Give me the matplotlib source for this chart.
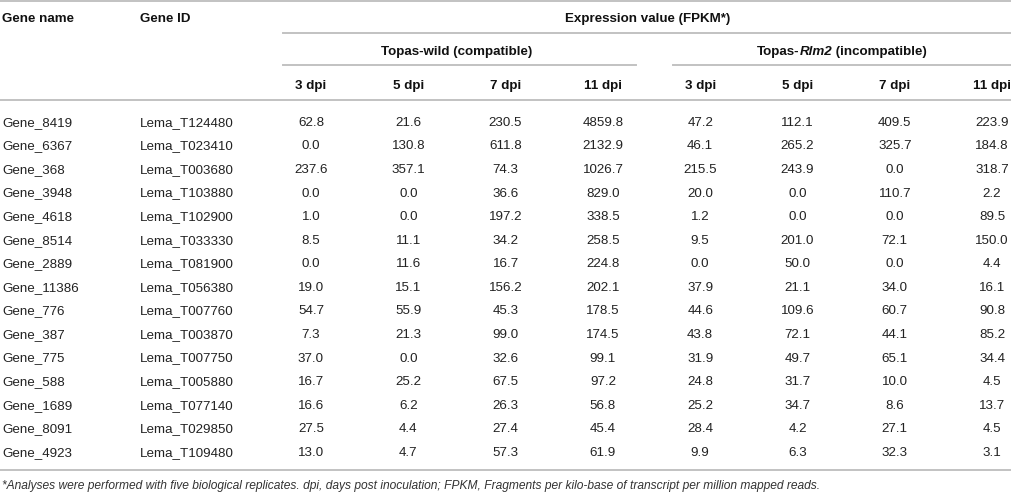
import matplotlib
matplotlib.use("Agg")
import matplotlib.pyplot as plt

plt.rcParams['font.family'] = ['Liberation Sans', 'DejaVu Sans']

gene_names = ["Gene_8419", "Gene_6367", "Gene_368", "Gene_3948", "Gene_4618", "Gene_8514",
              "Gene_2889", "Gene_11386", "Gene_776", "Gene_387", "Gene_775", "Gene_588",
              "Gene_1689", "Gene_8091", "Gene_4923"]
gene_ids = ["Lema_T124480", "Lema_T023410", "Lema_T003680", "Lema_T103880", "Lema_T102900",
            "Lema_T033330", "Lema_T081900", "Lema_T056380", "Lema_T007760", "Lema_T003870",
            "Lema_T007750", "Lema_T005880", "Lema_T077140", "Lema_T029850", "Lema_T109480"]
dpi_labels = ["3 dpi", "5 dpi", "7 dpi", "11 dpi"]
wild_3 = [62.8, 0.0, 237.6, 0.0, 1.0, 8.5, 0.0, 19.0, 54.7, 7.3, 37.0, 16.7, 16.6, 27.5, 13.0]
wild_5 = [21.6, 130.8, 357.1, 0.0, 0.0, 11.1, 11.6, 15.1, 55.9, 21.3, 0.0, 25.2, 6.2, 4.4, 4.7]
wild_7 = [230.5, 611.8, 74.3, 36.6, 197.2, 34.2, 16.7, 156.2, 45.3, 99.0, 32.6, 67.5, 26.3, 27.4, 57.3]
wild_11 = [4859.8, 2132.9, 1026.7, 829.0, 338.5, 258.5, 224.8, 202.1, 178.5, 174.5, 99.1, 97.2, 56.8, 45.4, 61.9]
rlm2_3 = [47.2, 46.1, 215.5, 20.0, 1.2, 9.5, 0.0, 37.9, 44.6, 43.8, 31.9, 24.8, 25.2, 28.4, 9.9]
rlm2_5 = [112.1, 265.2, 243.9, 0.0, 0.0, 201.0, 50.0, 21.1, 109.6, 72.1, 49.7, 31.7, 34.7, 4.2, 6.3]
rlm2_7 = [409.5, 325.7, 0.0, 110.7, 0.0, 72.1, 0.0, 34.0, 60.7, 44.1, 65.1, 10.0, 8.6, 27.1, 32.3]
rlm2_11 = [223.9, 184.8, 318.7, 2.2, 89.5, 150.0, 4.4, 16.1, 90.8, 85.2, 34.4, 4.5, 13.7, 4.5, 3.1]
footnote = ("*Analyses were performed with five biological replicates. dpi, days post inoculation; "
            "FPKM, Fragments per kilo-base of transcript per million mapped reads.")

W, H = 1012, 492
fig = plt.figure(figsize=(W / 100, H / 100), dpi=100)
ax = fig.add_axes([0, 0, 1, 1])
ax.set_xlim(0, W)
ax.set_ylim(H, 0)
ax.axis('off')

fs = 9.6
base_off = 4.8          # baseline offset below visual cap-centre (px)
txt_color = '#222222'
line_color = '#c2c2c2'
lw = 1.4

col_x = [311 + 97.3 * k for k in range(8)]
name_x, id_x = 2, 140
row0, row_step = 121, 23.57

# lines
ax.plot([0, W], [1, 1], color=line_color, lw=lw)
ax.plot([283, W], [33, 33], color=line_color, lw=lw)
ax.plot([283, 636], [65, 65], color=line_color, lw=lw)
ax.plot([673, W], [65, 65], color=line_color, lw=lw)
ax.plot([0, W], [100, 100], color=line_color, lw=lw)
ax.plot([0, W], [470, 470], color=line_color, lw=lw)

# headers
hkw = dict(fontsize=fs, fontweight='bold', color='#111111', va='baseline')
ax.text(name_x, 17 + base_off, "Gene name", ha='left', **hkw)
ax.text(id_x, 17 + base_off, "Gene ID", ha='left', **hkw)
ax.text(648, 17 + base_off, "Expression value (FPKM*)", ha='center', **hkw)
ax.text(457, 50 + base_off, "Topas-wild (compatible)", ha='center', **hkw)

# mixed-style header: Topas-Rlm2 (incompatible)
renderer = fig.canvas.get_renderer()
parts = [("Topas-", 'normal'), ("Rlm2", 'italic'), (" (incompatible)", 'normal')]
tmp = []
for s, st in parts:
    t = ax.text(0, 50 + base_off, s, ha='left', fontstyle=st, **hkw)
    tmp.append(t)
widths = [t.get_window_extent(renderer).width for t in tmp]
total = sum(widths)
x = 842 - total / 2
for t, w in zip(tmp, widths):
    t.set_x(x)
    x += w

for cx, lab in zip(col_x, dpi_labels * 2):
    ax.text(cx, 84 + base_off, lab, ha='center', **hkw)

# body
cols = [wild_3, wild_5, wild_7, wild_11, rlm2_3, rlm2_5, rlm2_7, rlm2_11]
dkw = dict(fontsize=fs, color=txt_color, va='baseline')
for i, (gn, gid) in enumerate(zip(gene_names, gene_ids)):
    y = row0 + i * row_step + base_off
    ax.text(name_x, y, gn, ha='left', **dkw)
    ax.text(id_x, y, gid, ha='left', **dkw)
    for cx, col in zip(col_x, cols):
        ax.text(cx, y, f"{col[i]:.1f}", ha='center', **dkw)

ax.text(2, 485 + 4.3, footnote, ha='left', va='baseline', fontsize=8.65,
        fontstyle='italic', color='#333333')

fig.savefig("out.png", dpi=100)
